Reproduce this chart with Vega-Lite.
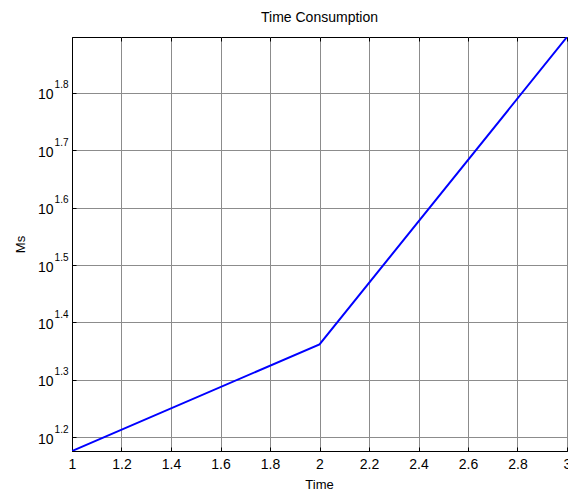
{
  "$schema": "https://vega.github.io/schema/vega-lite/v6.json",
  "autosize": {"type": "none"},
  "width": 495,
  "height": 414,
  "padding": {"left": 72, "top": 37, "right": 1, "bottom": 40},
  "background": "white",
  "title": {"text": "Time Consumption", "fontSize": 14, "fontWeight": "normal", "font": "Liberation Sans", "color": "black", "offset": 12},
  "config": {
    "view": {"stroke": "black", "strokeWidth": 1},
    "axis": {"labelFont": "Liberation Sans", "titleFont": "Liberation Sans", "labelColor": "black", "titleColor": "black", "titleFontWeight": "normal", "domainColor": "black", "gridColor": "#8c8c8c", "gridOpacity": 1, "tickColor": "black"}
  },
  "data": {"values": [
    {"t": 1, "ms": 15.0},
    {"t": 2, "ms": 23.0},
    {"t": 3, "ms": 78.9}
  ]},
  "resolve": {"axis": {"y": "independent", "x": "independent"}, "scale": {"y": "shared", "x": "shared"}},
  "layer": [
    {
      "mark": {"type": "line", "color": "#0000ff", "strokeWidth": 2, "clip": true},
      "encoding": {
        "x": {"field": "t", "type": "quantitative", "scale": {"domain": [1, 3], "nice": false, "zero": false},
          "axis": {"orient": "bottom", "values": [1, 1.2, 1.4, 1.6, 1.8, 2, 2.2, 2.4, 2.6, 2.8, 3], "format": "~g", "title": "Time", "titleFontSize": 13, "labelFontSize": 14, "labelPadding": 10, "ticks": true, "tickSize": -4, "labelOverlap": false, "labelBound": false, "labelFlush": false, "grid": true, "titleX": 247, "titleY": 33, "titleBaseline": "middle", "titleAlign": "center"}},
        "y": {"field": "ms", "type": "quantitative", "scale": {"type": "log", "domain": [15, 78.9], "nice": false, "zero": false},
          "axis": {"orient": "left", "values": [15.8489, 19.9526, 25.1189, 31.6228, 39.8107, 50.1187, 63.0957], "labelExpr": "format(log(datum.value)/LN10, '.1f')", "labelFontSize": 10, "labelPadding": 8, "labelBaseline": "alphabetic", "labelOffset": -5, "ticks": true, "tickSize": -4, "labelOverlap": false, "labelBound": false, "labelFlush": false, "grid": true, "title": null}}
      }
    },
    {
      "mark": {"type": "line", "opacity": 0},
      "encoding": {
        "x": {"field": "t", "type": "quantitative",
          "axis": {"orient": "top", "values": [1, 1.2, 1.4, 1.6, 1.8, 2, 2.2, 2.4, 2.6, 2.8, 3], "labels": false, "domain": false, "grid": false, "ticks": true, "tickSize": -4, "title": null}},
        "y": {"field": "ms", "type": "quantitative",
          "axis": {"orient": "left", "values": [15.8489, 19.9526, 25.1189, 31.6228, 39.8107, 50.1187, 63.0957], "labelExpr": "'10'", "labelFontSize": 14, "labelPadding": 19, "labelBaseline": "alphabetic", "labelOffset": 6, "ticks": false, "tickSize": 0, "domain": false, "labelOverlap": false, "labelBound": false, "labelFlush": false, "grid": false, "title": "Ms", "titleFontSize": 13, "titleX": -52, "titleY": 207, "titleAngle": -90, "titleBaseline": "middle", "titleAlign": "center"}}
      }
    }
  ]
}
